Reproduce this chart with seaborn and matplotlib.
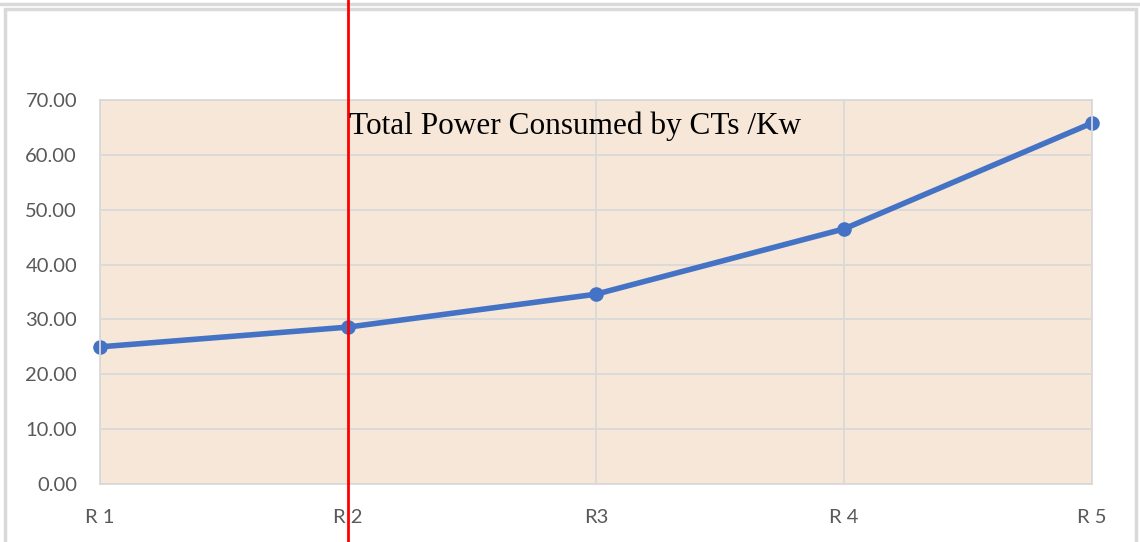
import matplotlib
matplotlib.use("Agg")
import pandas as pd
import seaborn as sns
from matplotlib import pyplot as plt
from matplotlib.patches import Rectangle
from matplotlib.lines import Line2D

# chart data
runs = ["R 1", "R 2", "R3", "R 4", "R 5"]
power_kw = [25.0, 28.6, 34.6, 46.5, 65.8]
y_ticks = [0, 10, 20, 30, 40, 50, 60, 70]

df = pd.DataFrame({"run": runs, "power": power_kw})

sns.set_style("white")
plt.rcParams["font.family"] = ["Lato", "DejaVu Sans"]

W, H = 1140, 542
fig = plt.figure(figsize=(W / 100, H / 100), dpi=100)
left, right, bottom, top = 100 / W, 1092 / W, (H - 484) / H, (H - 100) / H
ax = fig.add_axes([left, bottom, right - left, top - bottom])
ax.set_facecolor("#F6E7D8")

sns.lineplot(data=df, x="run", y="power", ax=ax, color="#4472C4", linewidth=4,
             marker="o", markersize=10.5, markeredgewidth=0, sort=False)
for ln in ax.lines:
    ln.set_clip_on(False)

ax.set_xlim(0, len(runs) - 1)
ax.set_ylim(0, 70)
ax.set_yticks(y_ticks)
ax.set_yticklabels([f"{v:.2f}" for v in y_ticks])
ax.grid(True, color="#D9D9D9", linewidth=1.3)
ax.set_axisbelow(True)
for s in ax.spines.values():
    s.set_color("#D9D9D9")
    s.set_linewidth(1.3)
ax.tick_params(axis="both", length=0, labelsize=14.5, labelcolor="#595959")
ax.tick_params(axis="y", pad=16.5)
ax.tick_params(axis="x", pad=18)
ax.set_xlabel("")
ax.set_ylabel("")

fig.text(575 / W, 1 - 126 / H, "Total Power Consumed by CTs /Kw",
         ha="center", va="center", fontsize=22.5,
         family=["Liberation Serif", "DejaVu Serif"], color="black")

# outer chart frame
fig.add_artist(Line2D([0, 1], [1 - 4 / H, 1 - 4 / H], color="#D9D9D9",
                      linewidth=2.5, zorder=-1))
fig.add_artist(Rectangle((5 / W, -0.05), (1136 - 5) / W, 1.05 - 9 / H,
                         fill=False, edgecolor="#D9D9D9", linewidth=2.5, zorder=-1))

# red marker line through R 2
h = top - bottom
ax.axvline(1, ymin=-bottom / h, ymax=(1 - bottom) / h, color="red",
           linewidth=2, clip_on=False, zorder=10)

fig.savefig("out.png", dpi=100)
